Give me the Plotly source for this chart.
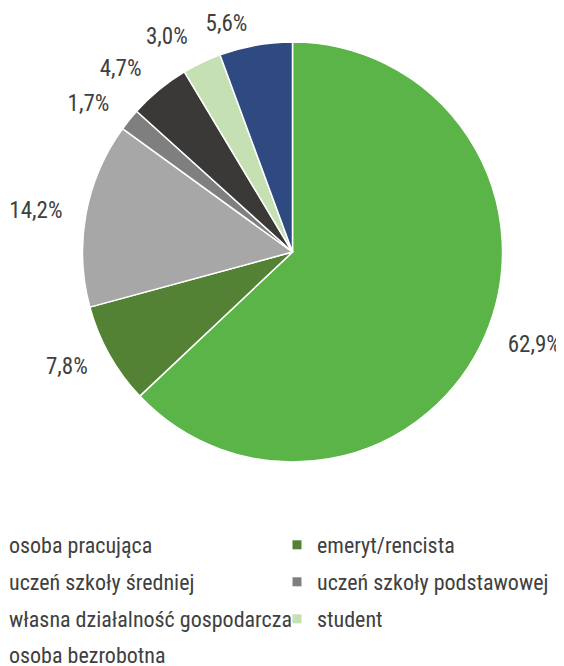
import plotly.graph_objects as go

# data
labels = [
    "osoba pracująca",
    "emeryt/rencista",
    "uczeń szkoły średniej",
    "uczeń szkoły podstawowej",
    "własna działalność gospodarcza",
    "student",
    "osoba bezrobotna",
]
values = [62.9, 7.8, 14.2, 1.7, 4.7, 3.0, 5.6]
colors = ["#5BB447", "#538234", "#A7A7A7", "#7F7F7F", "#3B3838", "#C5E0B3", "#2F4A80"]

FONT = "Roboto Condensed, Liberation Sans Narrow, sans-serif"
TXT = "#404040"
W, H = 564, 666
OFF = 8  # page body margin shifts the figure by 8px

# pie placement (screen px)
cx, cy, r = 292.5 - OFF, 252 - OFF, 210


def dom(rad):
    return dict(
        x=[(cx - rad) / W, (cx + rad) / W],
        y=[(H - cy - rad) / H, (H - cy + rad) / H],
    )


def label_pie(rad, shown):
    # invisible, slightly larger pie that only carries percentage labels
    return go.Pie(
        labels=labels,
        values=values,
        sort=False,
        direction="clockwise",
        rotation=0,
        marker=dict(colors=["rgba(0,0,0,0)"] * len(values), line=dict(width=0)),
        textposition=["outside" if i in shown else "none" for i in range(len(values))],
        texttemplate="%{value:.1f}%",
        textfont=dict(family=FONT, size=23, color=TXT),
        showlegend=False,
        hoverinfo="skip",
        domain=dom(rad),
    )


pie = go.Pie(
    labels=labels,
    values=values,
    sort=False,
    direction="clockwise",
    rotation=0,
    marker=dict(colors=colors, line=dict(color="white", width=1.5)),
    textinfo="none",
    showlegend=False,
    hoverinfo="label+value",
    domain=dom(r),
)

fig = go.Figure(data=[
    label_pie(227, [0, 1, 2, 3, 4, 5]),
    label_pie(219, [6]),
    pie,
])

# legend: one small legend per entry, two columns
col_x = [-39, 317 - 40 - OFF]
row_y = [545 - OFF, 582 - OFF, 619 - OFF, 655 - OFF]
legend_layout = {}
for i, (lab, col) in enumerate(zip(labels, colors)):
    key = "legend" if i == 0 else "legend%d" % (i + 1)
    fig.add_trace(go.Scatter(
        x=[None], y=[None], mode="markers", name=lab,
        marker=dict(symbol="square", size=9, color=col),
        legend=key, showlegend=True, hoverinfo="skip",
    ))
    legend_layout[key] = dict(
        x=col_x[i % 2] / W, xanchor="left",
        y=1 - row_y[i // 2] / H, yanchor="middle",
        bgcolor="rgba(0,0,0,0)",
        font=dict(family=FONT, size=22, color=TXT),
    )

fig.update_layout(
    width=W, height=H,
    margin=dict(l=0, r=0, t=0, b=0, autoexpand=False),
    paper_bgcolor="white",
    plot_bgcolor="white",
    separators=", ",
    xaxis=dict(visible=False),
    yaxis=dict(visible=False),
    **legend_layout,
)

fig.write_html("out.html")
